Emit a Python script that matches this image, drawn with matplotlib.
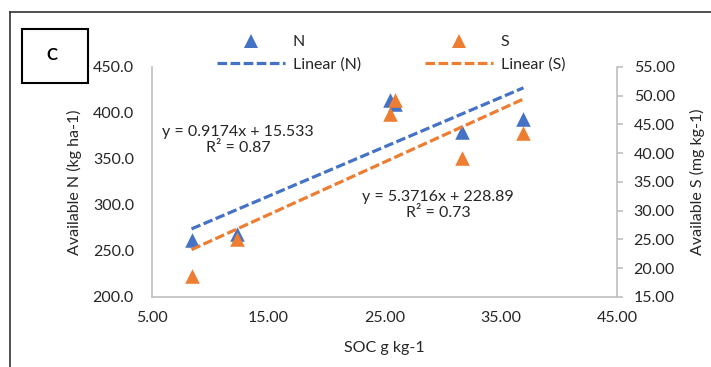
import matplotlib
matplotlib.use("Agg")
import matplotlib.pyplot as plt
from matplotlib.lines import Line2D
from matplotlib.patches import Rectangle

"""SOC vs available N and S, panel C"""

soc = [8.4, 12.3, 25.5, 25.9, 31.7, 36.95]
avail_n = [262, 268, 414, 410, 379, 394]
avail_s = [18.7, 25.1, 46.9, 49.3, 39.1, 43.6]

# trendline coefficients as printed on the chart
n_slope, n_icpt = 5.3716, 228.89
s_slope, s_icpt = 0.9174, 15.533
n_eq = "y = 0.9174x + 15.533\nR² = 0.87"
s_eq = "y = 5.3716x + 228.89\nR² = 0.73"

x_ticks = [5, 15, 25, 35, 45]
n_ticks = [200, 250, 300, 350, 400, 450]
s_ticks = [15, 20, 25, 30, 35, 40, 45, 50, 55]

BLUE = "#4472C4"
ORANGE = "#ED7D31"
GRID = "#BFBFBF"
TXT = "#262626"

plt.rcParams['font.family'] = ['Lato', 'DejaVu Sans']
plt.rcParams['font.size'] = 11.5

W, H = 711, 367
fig = plt.figure(figsize=(W / 100, H / 100), dpi=100)

ax = fig.add_axes([152 / W, 1 - 297 / H, 465 / W, 230 / H])
ax2 = ax.twinx()

ax.set_xlim(5, 45)
ax.set_ylim(200, 450)
ax2.set_ylim(15, 55)
ax.set_xticks(x_ticks)
ax.set_xticklabels([f"{v:.2f}" for v in x_ticks])
ax.set_yticks(n_ticks)
ax.set_yticklabels([f"{v:.1f}" for v in n_ticks])
ax2.set_yticks(s_ticks)
ax2.set_yticklabels([f"{v:.2f}" for v in s_ticks])

for a in (ax, ax2):
    for s in a.spines.values():
        s.set_color(GRID)
        s.set_linewidth(1.2)
    a.spines['top'].set_visible(False)
ax.spines['right'].set_visible(False)
ax2.spines['left'].set_visible(False)
ax2.spines['bottom'].set_visible(False)

ax.tick_params(axis='x', length=0, pad=10, labelcolor=TXT)
ax.tick_params(axis='y', length=0, pad=13, labelcolor=TXT)
ax2.tick_params(axis='y', length=4, width=1.2, color=GRID, pad=8, labelcolor=TXT)

# trendlines
xs = [min(soc), max(soc)]
ln_n, = ax.plot(xs, [n_slope * x + n_icpt for x in xs], color=BLUE, lw=2.3, zorder=2)
ln_n.set_dashes([3, 1.1])
ln_s, = ax2.plot(xs, [s_slope * x + s_icpt for x in xs], color=ORANGE, lw=2.3, zorder=2)
ln_s.set_dashes([3, 1.1])

ax.scatter(soc, avail_n, marker='^', s=110, color=BLUE, zorder=3, linewidths=0)
ax2.scatter(soc, avail_s, marker='^', s=110, color=ORANGE, zorder=3, linewidths=0)

ax.set_xlabel("SOC g kg-1", va='center', color=TXT)
ax.xaxis.set_label_coords(0.5, -0.222)
ax.set_ylabel("Available N (kg ha-1)", va='center', color=TXT)
ax.yaxis.set_label_coords(-0.166, 0.5)
ax2.set_ylabel("Available S (mg kg-1)", va='center', rotation=90, color=TXT)
ax2.yaxis.set_label_coords(1.172, 0.5)

fig.text(238 / W, 1 - 140 / H, n_eq, ha='center', va='center', multialignment='center', color=TXT)
fig.text(438 / W, 1 - 205 / H, s_eq, ha='center', va='center', multialignment='center', color=TXT)

handles = [
    Line2D([], [], marker='^', color=BLUE, ls='none', markersize=10, markeredgewidth=0),
    Line2D([], [], color=BLUE, lw=2.3, dashes=[3, 1.1]),
    Line2D([], [], marker='^', color=ORANGE, ls='none', markersize=10, markeredgewidth=0),
    Line2D([], [], color=ORANGE, lw=2.3, dashes=[3, 1.1]),
]
labels = ["N", "Linear (N)", "S", "Linear (S)"]
fig.legend(handles, labels, ncol=2, loc='upper left', bbox_to_anchor=(217 / W, 1 - 35 / H),
           frameon=False, borderpad=0, borderaxespad=0, handlelength=4.25,
           handletextpad=0.5, columnspacing=4.0, labelspacing=0.5, labelcolor=TXT)

# outer frame (cut off at right and bottom) and panel letter box
fig.add_artist(Line2D([10 / W, 10 / W], [0, 1 - 12 / H], color='#333333', lw=1.2))
fig.add_artist(Line2D([10 / W, 1], [1 - 12 / H, 1 - 12 / H], color='#333333', lw=1.2))
fig.add_artist(Rectangle((22 / W, 1 - 83 / H), 66 / W, 54 / H, fill=False,
                         edgecolor='black', lw=1.5, transform=fig.transFigure))
fig.text(52 / W, 1 - 55 / H, "C", ha='center', va='center', fontsize=12, fontweight='bold')

fig.savefig("out.png", dpi=100)
